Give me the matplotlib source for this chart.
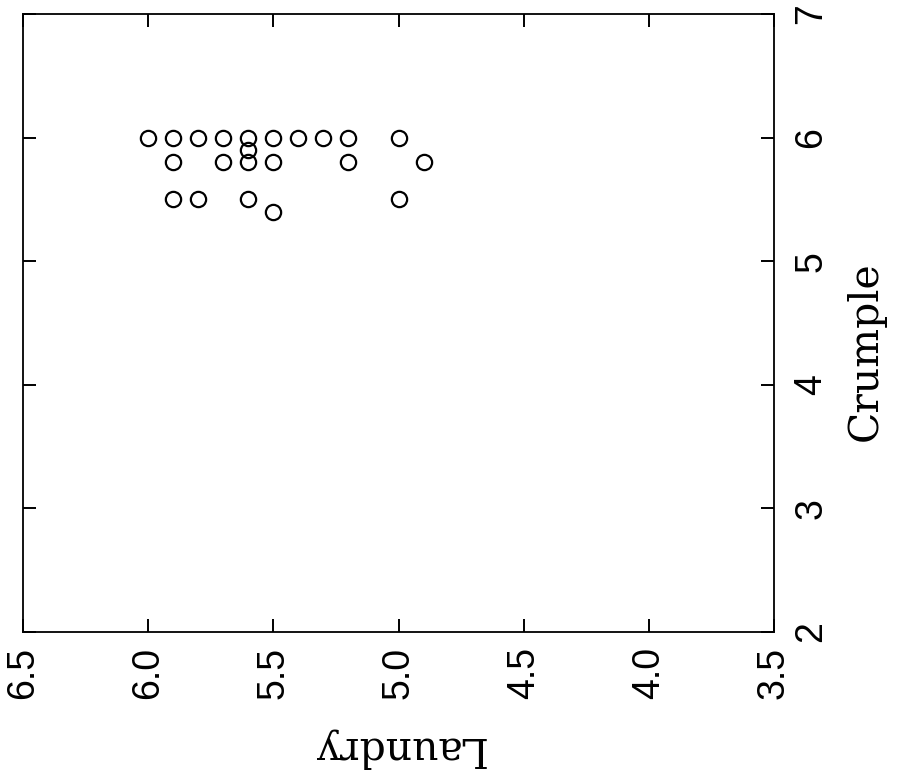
import numpy as np
import matplotlib.pyplot as plt

# data
laundry = [6.0, 5.9, 5.8, 5.7, 5.6, 5.5, 5.4, 5.3, 5.2, 5.0,
           5.6,
           5.9, 5.7, 5.6, 5.5, 5.2, 4.9,
           5.9, 5.8, 5.6, 5.0,
           5.5]
crumple = [6.0, 6.0, 6.0, 6.0, 6.0, 6.0, 6.0, 6.0, 6.0, 6.0,
           5.9,
           5.8, 5.8, 5.8, 5.8, 5.8, 5.8,
           5.5, 5.5, 5.5, 5.5,
           5.4]

xticks = [6.5, 6.0, 5.5, 5.0, 4.5, 4.0, 3.5]
yticks = [2, 3, 4, 5, 6, 7]

fig = plt.figure(figsize=(9.06, 7.72), dpi=100)
ax = fig.add_axes([23/906, 1 - 632/772, (774-23)/906, (632-14)/772])

ax.plot(laundry, crumple, 'o', mfc='none', mec='black', ms=11, mew=1.6)

ax.set_xlim(6.5, 3.5)
ax.set_ylim(2, 7)
ax.set_xticks(xticks)
ax.set_xticklabels(['%.1f' % t for t in xticks], rotation=90,
                   fontfamily='Liberation Sans', fontsize=27)
ax.set_yticks(yticks)
ax.set_yticklabels([str(t) for t in yticks], rotation=90, va='center',
                   fontfamily='Liberation Sans', fontsize=27)
ax.yaxis.tick_right()
ax.tick_params(direction='in', length=9.5, width=1.4,
               top=True, bottom=True, left=True, right=True)
ax.tick_params(axis='x', pad=11)
ax.tick_params(axis='y', pad=14)
for s in ax.spines.values():
    s.set_linewidth(1.3)

ax.set_xlabel('Laundry', rotation=180, fontfamily='DejaVu Serif',
              fontsize=29.5, ha='center', va='center')
ax.xaxis.set_label_coords(0.5, -0.188)
ax.yaxis.set_label_position('right')
ax.set_ylabel('Crumple', rotation=90, fontfamily='DejaVu Serif',
              fontsize=29.5, ha='center', va='center')
ax.yaxis.set_label_coords(1.1225, 0.455)

fig.savefig('out.png', dpi=100)
